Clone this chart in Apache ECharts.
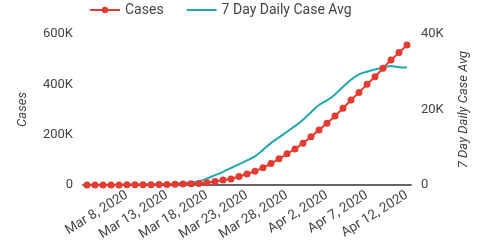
<!DOCTYPE html>
<html>
    <head>
        <meta charset="utf-8">
        <title>Cases</title>
        <script src="https://cdn.jsdelivr.net/npm/echarts@6/dist/echarts.min.js"></script>
        <style>
            html, body { margin: 0; padding: 0; background: #fff; }
            #chart1 { width: 478px; height: 250px; }
        </style>
    </head>
    <body>
        <div id="chart1"></div>
        <script type="text/javascript">
            // dates Mar 3 - Apr 12, 2020
            var days = ['Mar 3, 2020', 'Mar 4, 2020', 'Mar 5, 2020', 'Mar 6, 2020', 'Mar 7, 2020',
                'Mar 8, 2020', 'Mar 9, 2020', 'Mar 10, 2020', 'Mar 11, 2020', 'Mar 12, 2020',
                'Mar 13, 2020', 'Mar 14, 2020', 'Mar 15, 2020', 'Mar 16, 2020', 'Mar 17, 2020',
                'Mar 18, 2020', 'Mar 19, 2020', 'Mar 20, 2020', 'Mar 21, 2020', 'Mar 22, 2020',
                'Mar 23, 2020', 'Mar 24, 2020', 'Mar 25, 2020', 'Mar 26, 2020', 'Mar 27, 2020',
                'Mar 28, 2020', 'Mar 29, 2020', 'Mar 30, 2020', 'Mar 31, 2020', 'Apr 1, 2020',
                'Apr 2, 2020', 'Apr 3, 2020', 'Apr 4, 2020', 'Apr 5, 2020', 'Apr 6, 2020',
                'Apr 7, 2020', 'Apr 8, 2020', 'Apr 9, 2020', 'Apr 10, 2020', 'Apr 11, 2020',
                'Apr 12, 2020'];
            var shownLabels = ['Mar 8, 2020', 'Mar 13, 2020', 'Mar 18, 2020', 'Mar 23, 2020',
                'Mar 28, 2020', 'Apr 2, 2020', 'Apr 7, 2020', 'Apr 12, 2020'];
            var cases = [120, 160, 230, 330, 440, 540, 700, 990, 1300, 1650,
                2200, 2800, 3600, 4600, 6300, 9200, 13800, 19400, 24200, 33600,
                43800, 54900, 68200, 85400, 104000, 124000, 143000, 166000, 192000, 219000,
                245000, 274000, 305000, 338000, 368000, 400000, 430000, 464000, 497000, 526000,
                556000];
            var avg7 = [40, 50, 60, 80, 100, 120, 140, 170, 200, 230,
                260, 350, 500, 700, 1000, 1700, 2600, 3500, 4500, 5500,
                6500, 7600, 9300, 11100, 12600, 14100, 15600, 17300, 19300, 21200,
                22400, 24000, 26000, 27900, 29300, 30000, 30600, 31100, 31500, 31200,
                31100];
            var leftTicks = [0, 200000, 400000, 600000];
            var rightTicks = [0, 20000, 40000];

            var fmtK = function (v) { return v === 0 ? '0' : (v / 1000) + 'K'; };

            var myChart = echarts.init(document.getElementById('chart1'));
            myChart.setOption({
                animation: false,
                textStyle: { fontFamily: 'Roboto' },
                legend: {
                    left: 84,
                    top: -2,
                    itemGap: 22,
                    itemWidth: 30,
                    itemHeight: 8,
                    textStyle: { fontSize: 14, color: '#444' },
                    data: ['Cases', { name: '7 Day Daily Case Avg', itemStyle: { opacity: 0 } }]
                },
                grid: { left: 83, right: 62, top: 34, bottom: 65 },
                xAxis: {
                    type: 'category',
                    data: days,
                    boundaryGap: true,
                    axisLine: { lineStyle: { color: '#666', width: 2 } },
                    axisTick: { show: false },
                    axisLabel: {
                        rotate: 32,
                        fontSize: 13.5,
                        color: '#444',
                        margin: 9,
                        interval: function (i, v) { return shownLabels.indexOf(v) >= 0; }
                    }
                },
                yAxis: [{
                    type: 'value',
                    min: leftTicks[0],
                    max: leftTicks[leftTicks.length - 1],
                    interval: leftTicks[1] - leftTicks[0],
                    name: 'Cases',
                    nameLocation: 'middle',
                    nameGap: 54,
                    nameTextStyle: { fontSize: 13, color: '#444', fontStyle: 'italic' },
                    splitLine: { show: false },
                    axisLine: { show: false },
                    axisLabel: { fontSize: 13, color: '#444', margin: 10, formatter: fmtK }
                }, {
                    type: 'value',
                    min: rightTicks[0],
                    max: rightTicks[rightTicks.length - 1],
                    interval: rightTicks[1] - rightTicks[0],
                    name: '7 Day Daily Case Avg',
                    nameLocation: 'middle',
                    nameGap: 46,
                    nameTextStyle: { fontSize: 13, color: '#444', fontStyle: 'italic' },
                    splitLine: { show: false },
                    axisLine: { show: false },
                    axisLabel: { fontSize: 13, color: '#444', margin: 10, formatter: fmtK }
                }],
                series: [{
                    name: '7 Day Daily Case Avg',
                    type: 'line',
                    yAxisIndex: 1,
                    data: avg7,
                    symbol: 'none',
                    smooth: 0.3,
                    color: '#22a8b0',
                    lineStyle: { width: 2 }
                }, {
                    name: 'Cases',
                    type: 'line',
                    yAxisIndex: 0,
                    data: cases,
                    symbol: 'circle',
                    symbolSize: 7,
                    showAllSymbol: true,
                    color: '#e53b30',
                    lineStyle: { width: 2 }
                }]
            });
        </script>
    </body>
</html>
